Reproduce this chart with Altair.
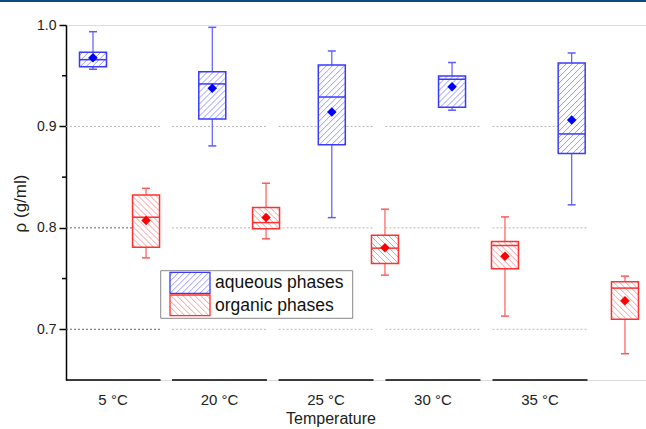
import altair as alt
import pandas as pd

# ---------------- data ----------------
temps = ["5 °C", "20 °C", "25 °C", "30 °C", "35 °C"]
label_pos = [0.392, 1.279, 2.167, 3.058, 3.95]      # category centres on x axis

# aqueous phases (blue)
aq_pos = [0.225, 1.219, 2.215, 3.217, 4.214]
aq_wlo = [0.9564, 0.8808, 0.8101, 0.916, 0.8227]
aq_q1 = [0.9589, 0.9074, 0.882, 0.919, 0.8732]
aq_med = [0.9658, 0.9419, 0.929, 0.9465, 0.8926]
aq_q3 = [0.9731, 0.954, 0.9606, 0.9498, 0.9626]
aq_whi = [0.9934, 0.9977, 0.9744, 0.963, 0.9724]
aq_mean = [0.9678, 0.9376, 0.9143, 0.9392, 0.9064]

# organic phases (red)
org_pos = [0.667, 1.667, 2.658, 3.658, 4.658]
org_wlo = [0.7704, 0.7892, 0.7534, 0.713, 0.6759]
org_q1 = [0.781, 0.799, 0.7649, 0.7596, 0.710]
org_med = [0.8105, 0.8052, 0.780, 0.7826, 0.7406]
org_q3 = [0.8325, 0.820, 0.7928, 0.7865, 0.7468]
org_whi = [0.839, 0.844, 0.8184, 0.8108, 0.7524]
org_mean = [0.8072, 0.8101, 0.7803, 0.7721, 0.7281]

grid_vals = [0.7, 0.8, 0.9]
major_ticks = [0.7, 0.8, 0.9, 1.0]
minor_ticks = [0.75, 0.85, 0.95]

# ---------------- layout / style ----------------
WIDTH, HEIGHT = 580, 355
X_MAX = 580 / 120
Y_MIN, Y_MAX = 0.65, 1.0
SX = WIDTH / X_MAX
SY = HEIGHT / (Y_MAX - Y_MIN)
BOX_HALF = 13.5 / SX
CAP_HALF = 4.0 / SX
SEG_HALF = 47.5 / SX
FONT = "Liberation Sans"

XS = alt.Scale(domain=[0, X_MAX], nice=False, zero=False)
YS = alt.Scale(domain=[Y_MIN, Y_MAX], nice=False, zero=False)
YAX = alt.Axis(values=major_ticks, format=".1f", grid=False, tickSize=7, tickWidth=1.5,
               tickColor="black", domainColor="black", domainWidth=1.5,
               labelFont=FONT, labelFontSize=14, labelColor="#222", labelPadding=3,
               title="ρ (g/ml)", titleFont=FONT, titleFontSize=17, titleFontWeight="normal",
               titleColor="#222", titleX=-46, titleY=178, titleAngle=270,
               titleAlign="center", titleBaseline="middle")


def X(f):
    return alt.X(f"{f}:Q", scale=XS, axis=None)


def Y(f):
    return alt.Y(f"{f}:Q", scale=YS, axis=YAX)


def hatch(x0, x1, y_top, y_bot, direction, step=6.0):
    W = (x1 - x0) * SX
    H = (y_top - y_bot) * SY
    rows = []
    if direction == "/":
        c = step / 2
        while c < W + H:
            xa, xb = max(0.0, c - H), min(W, c)
            rows.append((xa, c - xa, xb, c - xb))
            c += step
    else:
        c = -H + step / 2
        while c < W:
            xa, xb = max(0.0, c), min(W, c + H)
            rows.append((xa, xa - c, xb, xb - c))
            c += step
    return [dict(hx0=float(x0 + a / SX), hy0=float(y_top - b / SY),
                 hx1=float(x0 + cc / SX), hy1=float(y_top - d / SY))
            for a, b, cc, d in rows]


def phase_layers(pos, wlo, q1, med, q3, whi, mean, direction, box_c, wh_c, hat_c, mean_c):
    df = pd.DataFrame(dict(pos=pos, wlo=wlo, q1=q1, med=med, q3=q3, whi=whi, mean=mean))
    df["x0"] = df["pos"] - BOX_HALF
    df["x1"] = df["pos"] + BOX_HALF
    df["c0"] = df["pos"] - CAP_HALF
    df["c1"] = df["pos"] + CAP_HALF
    hrows = []
    for i in range(len(df)):
        hrows += hatch(df["x0"][i], df["x1"][i], df["q3"][i], df["q1"][i], direction)
    hdf = pd.DataFrame(hrows)
    base = alt.Chart(df)
    return [
        base.mark_rule(color=wh_c, strokeWidth=1.2).encode(x=X("pos"), y=Y("wlo"), y2="whi"),
        base.mark_rule(color=wh_c, strokeWidth=1.5).encode(x=X("c0"), x2="c1", y=Y("whi")),
        base.mark_rule(color=wh_c, strokeWidth=1.5).encode(x=X("c0"), x2="c1", y=Y("wlo")),
        base.mark_rect(fill="white").encode(x=X("x0"), x2="x1", y=Y("q1"), y2="q3"),
        alt.Chart(hdf).mark_rule(color=hat_c, strokeWidth=0.9).encode(
            x=X("hx0"), x2="hx1", y=Y("hy0"), y2="hy1"),
        base.mark_rect(fillOpacity=0, stroke=box_c, strokeWidth=1.5).encode(
            x=X("x0"), x2="x1", y=Y("q1"), y2="q3"),
        base.mark_rule(color=box_c, strokeWidth=1.5).encode(x=X("x0"), x2="x1", y=Y("med")),
        base.mark_point(shape="diamond", filled=True, size=90, color=mean_c, opacity=1).encode(
            x=X("pos"), y=Y("mean")),
    ]


# segments of the broken x axis and gridlines
seg = pd.DataFrame(dict(c=label_pos, t=temps))
seg["xs"] = (seg["c"] - SEG_HALF).clip(lower=0)
seg["xe"] = seg["c"] + SEG_HALF
grid_rows = []
for i in range(len(seg)):
    for v in grid_vals:
        grid_rows.append(dict(xs=float(seg["xs"][i]), xe=float(seg["xe"][i]), v=v,
                              first=bool(i == 0 and v < 0.85)))
grid = pd.DataFrame(grid_rows)

layers = []
layers.append(alt.Chart(grid[~grid["first"]]).mark_rule(color="#b8b8b8", strokeWidth=1, strokeDash=[2, 2])
              .encode(x=X("xs"), x2="xe", y=Y("v")))
layers.append(alt.Chart(grid[grid["first"]]).mark_rule(color="#666", strokeWidth=1, strokeDash=[2, 2])
              .encode(x=X("xs"), x2="xe", y=Y("v")))
layers.append(alt.Chart(seg).mark_rule(color="black", strokeWidth=1.5)
              .encode(x=X("xs"), x2="xe", y=alt.value(HEIGHT)))
layers.append(alt.Chart(pd.DataFrame(dict(v=minor_ticks))).mark_rule(color="black", strokeWidth=1.5)
              .encode(y=Y("v"), x=alt.value(-4), x2=alt.value(0)))
layers.append(alt.Chart(seg).mark_text(font=FONT, fontSize=15, color="#222", baseline="middle")
              .encode(x=X("c"), y=alt.value(375), text="t:N"))
layers.append(alt.Chart(pd.DataFrame(dict(t=["Temperature"]))).mark_text(
    font=FONT, fontSize=16, color="#222", baseline="middle")
    .encode(x=alt.value(265), y=alt.value(394), text="t:N"))
layers.append(alt.Chart(pd.DataFrame(dict(a=[0]))).mark_rule(color="#0b4a86", strokeWidth=2)
              .encode(x=alt.value(-66), x2=alt.value(WIDTH), y=alt.value(-24)))

layers += phase_layers(aq_pos, aq_wlo, aq_q1, aq_med, aq_q3, aq_whi, aq_mean, "/",
                       "#3a3aff", "#5c5cff", "#8c8cff", "#0000ff")
layers += phase_layers(org_pos, org_wlo, org_q1, org_med, org_q3, org_whi, org_mean, "\\",
                       "#ff3030", "#ff5a5a", "#ff8c8c", "#ff0000")

# custom legend
one = pd.DataFrame(dict(a=[0]))
layers.append(alt.Chart(one).mark_rect(fill="white", stroke="#888", strokeWidth=1).encode(
    x=alt.value(94.7), x2=alt.value(286.7), y=alt.value(245.7), y2=alt.value(293.3)))
for (ya, yb, d, bc, hc, name) in [(247.3, 268.3, "/", "#3a3aff", "#8c8cff", "aqueous phases"),
                                  (270.0, 290.7, "\\", "#ff3030", "#ff8c8c", "organic phases")]:
    x0, x1 = 104 / SX, 144 / SX
    yt, ybt = Y_MAX - ya / SY, Y_MAX - yb / SY
    layers.append(alt.Chart(pd.DataFrame(hatch(x0, x1, yt, ybt, d))).mark_rule(
        color=hc, strokeWidth=0.9).encode(x=X("hx0"), x2="hx1", y=Y("hy0"), y2="hy1"))
    layers.append(alt.Chart(one).mark_rect(fillOpacity=0, stroke=bc, strokeWidth=1.3).encode(
        x=alt.value(104), x2=alt.value(144), y=alt.value(ya), y2=alt.value(yb)))
    layers.append(alt.Chart(pd.DataFrame(dict(t=[name]))).mark_text(
        font=FONT, fontSize=17.5, color="#111", align="left", baseline="middle").encode(
        x=alt.value(149), y=alt.value((ya + yb) / 2 + 0.5), text="t:N"))

chart = alt.layer(*layers).properties(
    width=WIDTH, height=HEIGHT,
    padding={"left": 66, "top": 25, "right": 0, "bottom": 49},
    autosize=alt.AutoSizeParams(type="none"),
).configure_view(stroke=None).configure(background="white")

chart.save("out.html", embed_options={"renderer": "svg", "actions": False})
